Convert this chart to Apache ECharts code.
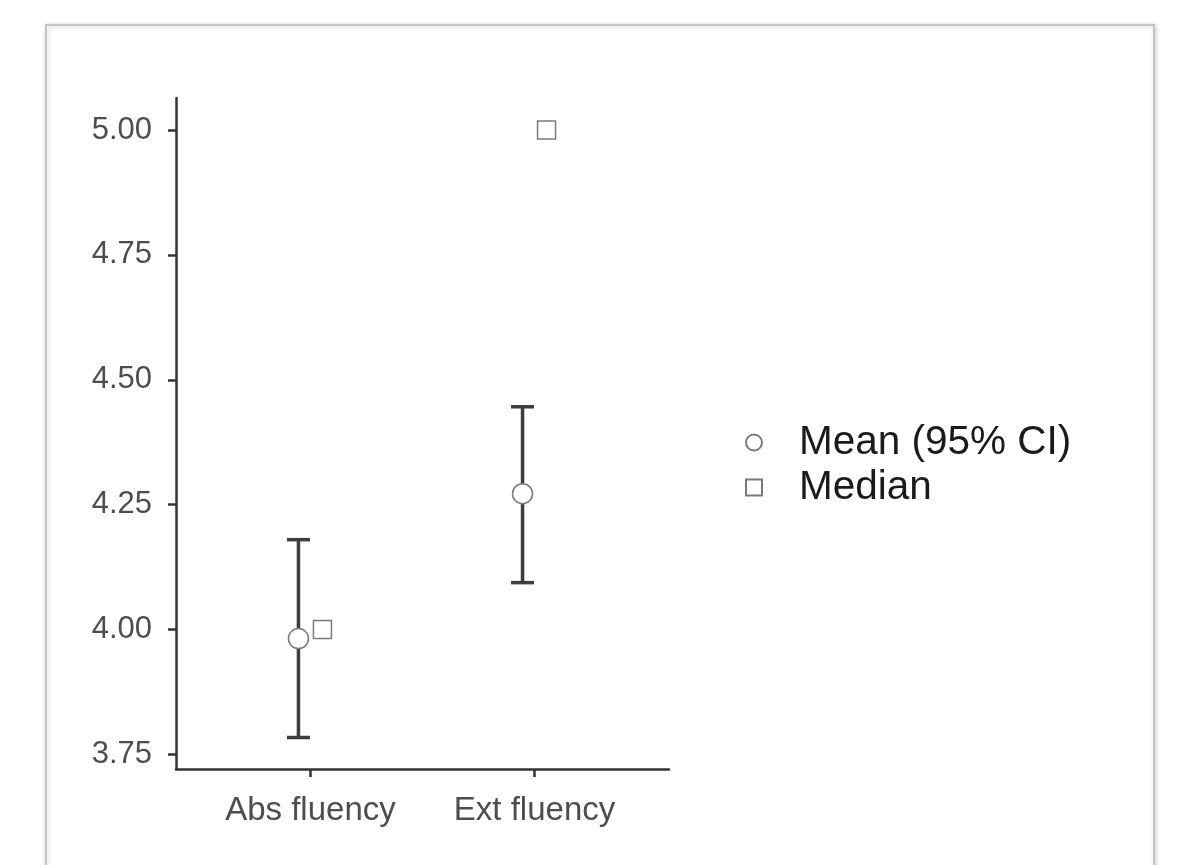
<!DOCTYPE html>
<html>
<head>
<meta charset="utf-8">
<script src="https://cdn.jsdelivr.net/npm/echarts@6/dist/echarts.min.js"></script>
<style>
html,body{margin:0;padding:0;background:#fff;}
#chart{width:1181px;height:865px;}
</style>
</head>
<body>
<div id="chart"></div>
<script>
// ---- data ----
const categories = ['Abs fluency', 'Ext fluency'];
const meanValues = [3.982, 4.272];
const ciLow = [3.784, 4.094];
const ciHigh = [4.180, 4.446];
const medianValues = [4.00, 5.00];
const yTicks = [3.75, 4.00, 4.25, 4.50, 4.75, 5.00];

const catPos = categories.map((c, i) => i + 1);
const meanData = catPos.map((x, i) => [x, meanValues[i]]);
const ciData = catPos.map((x, i) => [x, ciLow[i], ciHigh[i]]);
const medianData = catPos.map((x, i) => [x, medianValues[i]]);

const DODGE = 12;
const axisColor = '#333333';
const labelColor = '#4d4d4d';
const font = '"Liberation Sans", Arial, sans-serif';

const chart = echarts.init(document.getElementById('chart'), null, {renderer: 'canvas'});
chart.setOption({
  animation: false,
  backgroundColor: '#ffffff',
  graphic: [{
    type: 'rect',
    z: -10,
    silent: true,
    shape: {x: 46, y: 25, width: 1108, height: 870},
    style: {fill: '#ffffff', stroke: '#c4c4c4', lineWidth: 2,
            shadowBlur: 5, shadowColor: 'rgba(0,0,0,0.18)', shadowOffsetX: 1, shadowOffsetY: 1}
  }],
  grid: {left: 176, right: 512, top: 98, bottom: 96, containLabel: false},
  xAxis: {
    type: 'value',
    min: 0.4, max: 2.6,
    splitLine: {show: false},
    axisLine: {show: true, onZero: false, lineStyle: {color: axisColor, width: 2.5}},
    axisTick: {show: true, length: 8, lineStyle: {color: axisColor, width: 2.5}, customValues: catPos},
    axisLabel: {
      customValues: catPos,
      formatter: v => categories[Math.round(v) - 1] || '',
      color: labelColor, fontSize: 33, fontFamily: font, margin: 25
    }
  },
  yAxis: {
    type: 'value',
    min: 3.721, max: 5.064,
    splitLine: {show: false},
    axisLine: {show: true, onZero: false, lineStyle: {color: axisColor, width: 2.5}},
    axisTick: {show: true, length: 8, lineStyle: {color: axisColor, width: 2.5}, customValues: yTicks},
    axisLabel: {
      customValues: yTicks,
      formatter: v => v.toFixed(2),
      color: labelColor, fontSize: 31, fontFamily: font, margin: 24, padding: [8, 0, 0, 0]
    }
  },
  legend: {
    orient: 'vertical',
    left: 745, top: 420,
    padding: 0,
    itemGap: 0,
    itemWidth: 16, itemHeight: 16,
    data: [
      {name: 'Mean (95% CI)', icon: 'circle'},
      {name: 'Median', icon: 'rect'}
    ],
    textStyle: {fontSize: 40.5, fontFamily: font, color: '#1a1a1a', lineHeight: 45, padding: [0, 0, 0, 32]}
  },
  series: [
    {
      name: 'CI',
      type: 'custom',
      z: 2,
      data: ciData,
      renderItem: function (params, api) {
        const x = api.value(0);
        const lo = api.coord([x, api.value(1)]);
        const hi = api.coord([x, api.value(2)]);
        const cx = lo[0] - DODGE;
        const cap = 11.5;
        const st = {stroke: '#3d3d3d', lineWidth: 3.5};
        return {
          type: 'group',
          children: [
            {type: 'line', shape: {x1: cx, y1: lo[1], x2: cx, y2: hi[1]}, style: st},
            {type: 'line', shape: {x1: cx - cap, y1: lo[1], x2: cx + cap, y2: lo[1]}, style: st},
            {type: 'line', shape: {x1: cx - cap, y1: hi[1], x2: cx + cap, y2: hi[1]}, style: st}
          ]
        };
      }
    },
    {
      name: 'Mean (95% CI)',
      type: 'scatter',
      z: 3,
      data: meanData,
      symbol: 'circle',
      symbolSize: 20,
      symbolOffset: [-DODGE, 0],
      itemStyle: {color: '#ffffff', borderColor: '#7a7a7a', borderWidth: 1.5, opacity: 1}
    },
    {
      name: 'Median',
      type: 'scatter',
      z: 3,
      data: medianData,
      symbol: 'rect',
      symbolSize: 18,
      symbolOffset: [DODGE, 0],
      itemStyle: {color: '#ffffff', borderColor: '#7a7a7a', borderWidth: 1.5, opacity: 1}
    }
  ]
});
</script>
</body>
</html>
